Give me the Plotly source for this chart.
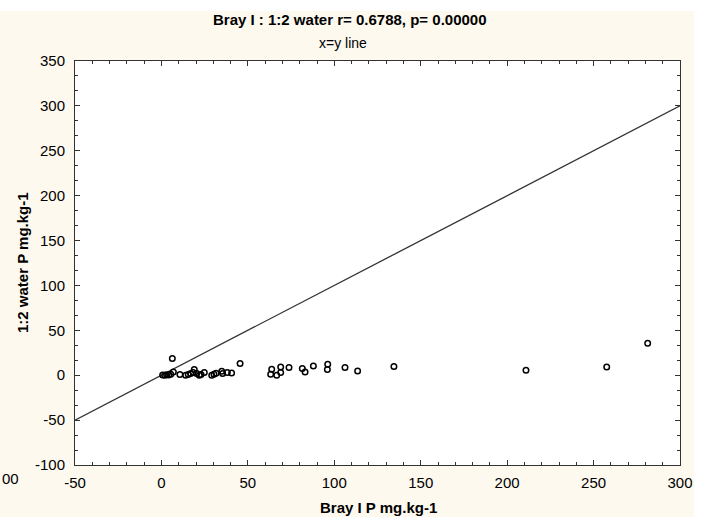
import plotly.graph_objects as go

# Data (Bray I P vs 1:2 water P, mg/kg)
bray_p = [6.3, 0.7, 1.9, 3.0, 4.2, 5.4, 6.9, 10.7, 14.0, 15.5, 16.9, 18.4, 19.0,
          20.4, 21.9, 22.9, 24.8, 29.1, 30.4, 31.6, 34.9, 35.4, 38.1, 40.6, 45.5,
          63.8, 63.2, 66.7, 69.0, 69.0, 73.8, 81.5, 83.1, 87.9, 96.2, 96.0,
          106.2, 113.5, 134.5, 210.9, 257.6, 281.3]
water_p = [18.5, 0.3, 0.0, 0.5, 0.3, 1.0, 3.6, 0.7, 0.0, 0.7, 1.8, 3.0, 6.3,
           1.8, 0.0, 0.7, 3.0, 0.0, 1.0, 2.2, 4.4, 1.8, 3.0, 2.5, 13.0,
           6.6, 1.0, 0.0, 9.2, 3.0, 8.5, 7.4, 3.6, 10.3, 12.2, 6.3,
           8.5, 4.7, 9.6, 5.5, 9.2, 35.6]
xy_line = [-50, 300]

x_ticks = [-50, 0, 50, 100, 150, 200, 250, 300]
x_ticklabels = ["-50", "0", "50", "100", "150", "200", "250", "300"]
y_ticks = [-100, -50, 0, 50, 100, 150, 200, 250, 300, 350]
y_ticklabels = ["-100", "-50", "0", "50", "100", "150", "200", "250", "300", "350"]

title_text = "Bray I : 1:2 water r= 0.6788, p= 0.00000"
subtitle_text = "x=y line"
x_title = "Bray I P mg.kg-1"
y_title = "1:2 water P mg.kg-1"
edge_fragment = "00"

FONT = "Liberation Sans, Arial, sans-serif"
CREAM = "#fdf9ef"

fig = go.Figure()
fig.add_trace(go.Scatter(x=xy_line, y=xy_line, mode="lines",
                         line=dict(color="#333333", width=1.3),
                         hoverinfo="skip", showlegend=False))
fig.add_trace(go.Scatter(x=bray_p, y=water_p, mode="markers",
                         marker=dict(symbol="circle-open", size=5.5,
                                     color="black", line=dict(width=1.5)),
                         showlegend=False))

axis_common = dict(showgrid=False, zeroline=False, showline=True, mirror="ticks",
                   linecolor="#333333", linewidth=1, ticks="inside", ticklen=5,
                   tickcolor="#333333", tickwidth=1, tickmode="array",
                   tickfont=dict(family=FONT, size=15, color="black"))

fig.update_xaxes(range=[-50, 300], tickvals=x_ticks, ticktext=x_ticklabels,
                 minor=dict(dtick=10, tick0=-50, ticks="inside", ticklen=3,
                            tickcolor="#333333"),
                 ticklabelstandoff=4, **axis_common)
fig.update_yaxes(range=[-100, 350], tickvals=y_ticks, ticktext=y_ticklabels,
                 minor=dict(dtick=50 / 3, tick0=-100, ticks="inside", ticklen=3,
                            tickcolor="#333333"),
                 ticklabelstandoff=6, **axis_common)

L, R, T, B = 75, 680, 61, 465
W, H = 711, 517

def px(xp):
    return (xp - L) / (R - L)

def py(yp):
    return (B - yp) / (B - T)

annotations = [
    dict(text="<b>" + title_text + "</b>", x=px(350), y=py(20), xanchor="center",
         font=dict(family=FONT, size=15, color="black")),
    dict(text=subtitle_text, x=px(343), y=py(43), xanchor="center",
         font=dict(family=FONT, size=14, color="black")),
    dict(text="<b>" + x_title + "</b>", x=px(378), y=py(507), xanchor="center",
         font=dict(family=FONT, size=15, color="black")),
    dict(text="<b>" + y_title + "</b>", x=px(22), y=py(263), textangle=-90,
         xanchor="center", font=dict(family=FONT, size=15, color="black")),
    dict(text=edge_fragment, x=px(0), y=py(478), xanchor="left",
         font=dict(family=FONT, size=15, color="black")),
]
for a in annotations:
    a.update(xref="paper", yref="paper", yanchor="middle", showarrow=False)

shapes = [
    dict(type="rect", xref="paper", yref="paper", x0=px(-5), x1=px(W + 5),
         y0=py(11), y1=py(-5), fillcolor="white", line=dict(width=0), layer="below"),
    dict(type="rect", xref="paper", yref="paper", x0=px(694), x1=px(W + 5),
         y0=py(W + 5), y1=py(-5), fillcolor="white", line=dict(width=0), layer="below"),
]

fig.update_layout(width=W, height=H,
                  margin=dict(l=L, r=W - R, t=T, b=H - B, pad=0),
                  paper_bgcolor=CREAM, plot_bgcolor="white",
                  annotations=annotations, shapes=shapes,
                  font=dict(family=FONT, color="black"))

fig.write_html("out.html")
